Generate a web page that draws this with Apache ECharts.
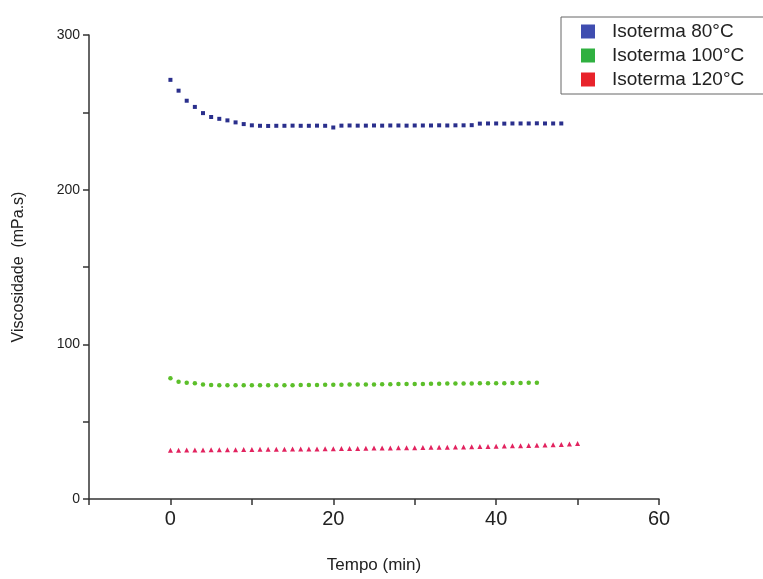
<!DOCTYPE html>
<html>
<head>
<meta charset="utf-8">
<script src="https://cdn.jsdelivr.net/npm/echarts@6/dist/echarts.min.js"></script>
<style>
html,body{margin:0;padding:0;background:#fff;}
#chart{width:763px;height:579px;}
</style>
</head>
<body>
<div id="chart"></div>
<script>
// Time (min) for each series: points every minute
const time80 = [0,1,2,3,4,5,6,7,8,9,10,11,12,13,14,15,16,17,18,19,20,21,22,23,24,25,26,27,28,29,30,31,32,33,34,35,36,37,38,39,40,41,42,43,44,45,46,47,48];
const visc80 = [271,264,257.5,253.5,249.5,247,245.8,244.8,243.5,242.4,241.6,241.3,241.2,241.3,241.3,241.4,241.3,241.3,241.4,241.3,240.2,241.4,241.5,241.4,241.4,241.5,241.4,241.5,241.5,241.4,241.5,241.5,241.5,241.6,241.5,241.6,241.6,241.7,242.7,242.8,242.8,242.7,242.8,242.8,242.8,242.9,242.8,242.8,242.8];

const time100 = [0,1,2,3,4,5,6,7,8,9,10,11,12,13,14,15,16,17,18,19,20,21,22,23,24,25,26,27,28,29,30,31,32,33,34,35,36,37,38,39,40,41,42,43,44,45];
const visc100 = [78,75.8,75.2,74.8,74.1,73.7,73.6,73.5,73.5,73.5,73.5,73.5,73.6,73.6,73.6,73.6,73.7,73.7,73.7,73.8,73.8,73.9,74.0,74.0,74.1,74.1,74.2,74.2,74.3,74.3,74.4,74.4,74.5,74.5,74.6,74.6,74.7,74.7,74.8,74.8,74.9,74.9,75.0,75.0,75.1,75.2];

const time120 = [0,1,2,3,4,5,6,7,8,9,10,11,12,13,14,15,16,17,18,19,20,21,22,23,24,25,26,27,28,29,30,31,32,33,34,35,36,37,38,39,40,41,42,43,44,45,46,47,48,49,50];
const visc120 = [31.6,31.6,31.7,31.7,31.7,31.8,31.8,31.9,31.9,32.0,32.0,32.1,32.1,32.2,32.2,32.3,32.3,32.4,32.4,32.5,32.5,32.6,32.7,32.7,32.8,32.9,32.9,33.0,33.1,33.1,33.2,33.3,33.4,33.4,33.5,33.6,33.7,33.8,33.9,34.0,34.1,34.2,34.4,34.5,34.6,34.8,34.9,35.1,35.3,35.6,35.9];

const seriesNames = ['Isoterma 80°C','Isoterma 100°C','Isoterma 120°C'];
const xTickLabels = [0,20,40,60];
const yTickLabels = [0,100,200,300];

function pairs(xs, ys){ return xs.map((x,i)=>[x, ys[i]]); }

const chart = echarts.init(document.getElementById('chart'), null, {renderer:'canvas'});
const font = 'Liberation Sans, Arial, sans-serif';
chart.setOption({
  animation:false,
  backgroundColor:'#fff',
  grid:{left:89, right:104, top:35, bottom:80, containLabel:false},
  legend:{
    orient:'vertical', left:561, top:17,
    padding:[5,60,5,20],
    itemWidth:14, itemHeight:14, itemGap:5,
    borderColor:'#666', borderWidth:1,
    icon:'rect',
    textStyle:{fontFamily:font, fontSize:19, color:'#222', padding:[0,0,0,12]},
    data:[
      {name:seriesNames[0], itemStyle:{color:'#3f4db0', opacity:1}},
      {name:seriesNames[1], itemStyle:{color:'#2fb040', opacity:1}},
      {name:seriesNames[2], itemStyle:{color:'#e8232b', opacity:1}}
    ]
  },
  xAxis:{
    type:'value', min:-10, max:60, interval:10,
    name:'Tempo (min)', nameLocation:'middle', nameGap:58,
    nameTextStyle:{fontFamily:font, fontSize:17, color:'#222'},
    axisLine:{show:true, onZero:false, lineStyle:{color:'#333', width:1.5}},
    axisTick:{show:true, length:6, lineStyle:{color:'#333', width:1.5}},
    axisLabel:{fontFamily:font, fontSize:20, color:'#222', margin:10,
      formatter:v => xTickLabels.includes(v) ? String(v) : ''},
    splitLine:{show:false}
  },
  yAxis:{
    type:'value', min:0, max:300, interval:50,
    name:'Viscosidade  (mPa.s)', nameLocation:'middle', nameGap:62,
    nameTextStyle:{fontFamily:font, fontSize:16, color:'#222'},
    axisLine:{show:true, onZero:false, lineStyle:{color:'#333', width:1.5}},
    axisTick:{show:true, length:6, lineStyle:{color:'#333', width:1.5}},
    axisLabel:{fontFamily:font, fontSize:14, color:'#222', margin:9,
      formatter:v => yTickLabels.includes(v) ? String(v) : ''},
    splitLine:{show:false}
  },
  series:[
    {name:seriesNames[0], type:'scatter', symbol:'rect', symbolSize:4,
     itemStyle:{color:'#2a2f8c', opacity:1}, data:pairs(time80, visc80)},
    {name:seriesNames[1], type:'scatter', symbol:'circle', symbolSize:4.5,
     itemStyle:{color:'#5cbf2a', opacity:1}, data:pairs(time100, visc100)},
    {name:seriesNames[2], type:'scatter', symbol:'triangle', symbolSize:5,
     itemStyle:{color:'#e2235f', opacity:1}, data:pairs(time120, visc120)}
  ]
});
</script>
</body>
</html>
